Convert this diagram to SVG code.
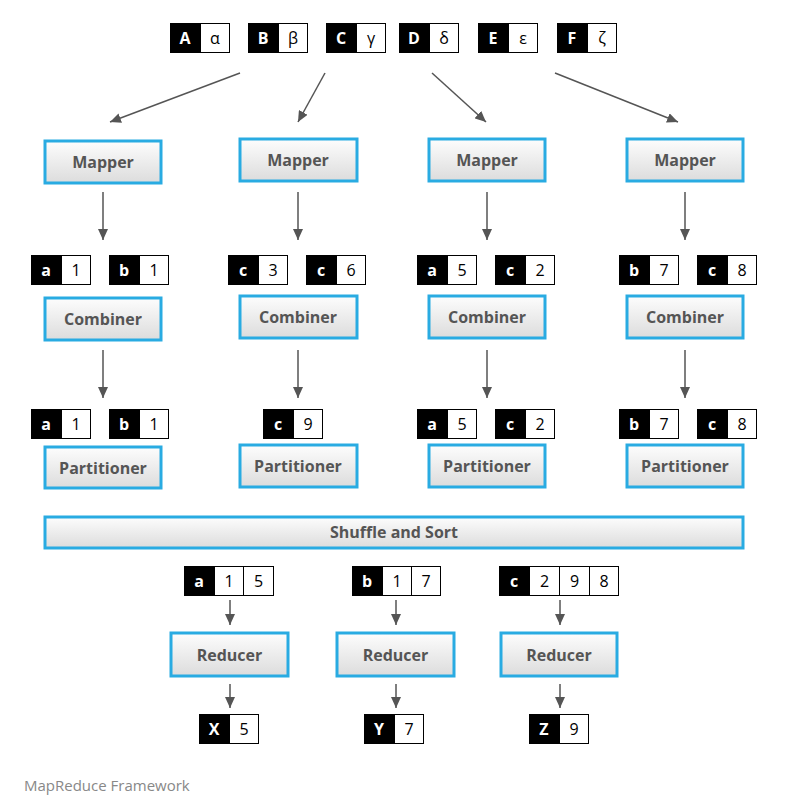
<svg xmlns="http://www.w3.org/2000/svg" width="794" height="801" viewBox="0 0 794 801">
<defs>
<linearGradient id="g" x1="0" y1="0" x2="0" y2="1">
<stop offset="0" stop-color="#fdfdfd"/>
<stop offset="1" stop-color="#dcdcdc"/>
</linearGradient>
<marker id="ah" markerUnits="userSpaceOnUse" markerWidth="11" markerHeight="10" refX="11" refY="5" orient="auto">
<path d="M0,0 L11,5 L0,10 z" fill="#555"/>
</marker>
</defs>
<style>
.box{fill:url(#g);stroke:#29abe2;stroke-width:3}
.lbl{font-family:"Open Sans","Liberation Sans",sans-serif;font-size:16px;font-weight:700;fill:#555;text-anchor:middle}
.k{fill:#000}
.v{fill:#fff;stroke:#000;stroke-width:1}
.kt{font-family:"Open Sans","Liberation Sans",sans-serif;font-size:16px;font-weight:700;fill:#fff;text-anchor:middle}
.vt{font-family:"Open Sans","Liberation Sans",sans-serif;font-size:16px;fill:#000;text-anchor:middle}
.c{stroke:#555;stroke-width:1.5;fill:none;marker-end:url(#ah)}
.cap{font-family:"Open Sans","Liberation Sans",sans-serif;font-size:15px;fill:#888}
</style>
<rect width="794" height="801" fill="#fff"/>

<!-- input pairs -->
<g id="in-A"><rect class="k" x="170" y="23" width="30" height="30"/><rect class="v" x="200.5" y="23.5" width="29" height="29"/><text class="kt" x="185" y="44">A</text><text class="vt" x="215" y="44">α</text></g>
<g id="in-B"><rect class="k" x="248" y="23" width="30" height="30"/><rect class="v" x="278.5" y="23.5" width="29" height="29"/><text class="kt" x="263" y="44">B</text><text class="vt" x="293" y="44">β</text></g>
<g id="in-C"><rect class="k" x="326" y="23" width="30" height="30"/><rect class="v" x="356.5" y="23.5" width="29" height="29"/><text class="kt" x="341" y="44">C</text><text class="vt" x="371" y="44">γ</text></g>
<g id="in-D"><rect class="k" x="399" y="23" width="30" height="30"/><rect class="v" x="429.5" y="23.5" width="29" height="29"/><text class="kt" x="414" y="44">D</text><text class="vt" x="444" y="44">δ</text></g>
<g id="in-E"><rect class="k" x="478" y="23" width="30" height="30"/><rect class="v" x="508.5" y="23.5" width="29" height="29"/><text class="kt" x="493" y="44">E</text><text class="vt" x="523" y="44">ε</text></g>
<g id="in-F"><rect class="k" x="557" y="23" width="30" height="30"/><rect class="v" x="587.5" y="23.5" width="29" height="29"/><text class="kt" x="572" y="44">F</text><text class="vt" x="602" y="44">ζ</text></g>

<!-- connectors -->
<g id="connectors">
<line class="c" x1="240" y1="73" x2="110" y2="122"/>
<line class="c" x1="325" y1="73" x2="298" y2="122"/>
<line class="c" x1="432" y1="73" x2="486" y2="122"/>
<line class="c" x1="555" y1="73" x2="678" y2="122"/>
<line class="c" x1="103" y1="192" x2="103" y2="240"/>
<line class="c" x1="298" y1="192" x2="298" y2="240"/>
<line class="c" x1="487" y1="192" x2="487" y2="240"/>
<line class="c" x1="685" y1="192" x2="685" y2="240"/>
<line class="c" x1="103" y1="350" x2="103" y2="398"/>
<line class="c" x1="298" y1="350" x2="298" y2="398"/>
<line class="c" x1="487" y1="350" x2="487" y2="398"/>
<line class="c" x1="685" y1="350" x2="685" y2="398"/>
<line class="c" x1="230" y1="600" x2="230" y2="625"/>
<line class="c" x1="396" y1="600" x2="396" y2="625"/>
<line class="c" x1="560" y1="600" x2="560" y2="625"/>
<line class="c" x1="230" y1="684" x2="230" y2="708"/>
<line class="c" x1="396" y1="684" x2="396" y2="708"/>
<line class="c" x1="560" y1="684" x2="560" y2="708"/>
</g>

<!-- mappers -->
<g id="mapper1"><rect class="box" x="45" y="141" width="116" height="42"/><text class="lbl" x="103" y="167.5">Mapper</text></g>
<g id="mapper2"><rect class="box" x="240" y="139" width="117" height="42"/><text class="lbl" x="298" y="165.5">Mapper</text></g>
<g id="mapper3"><rect class="box" x="429" y="139" width="116" height="42"/><text class="lbl" x="487" y="165.5">Mapper</text></g>
<g id="mapper4"><rect class="box" x="627" y="139" width="116" height="42"/><text class="lbl" x="685" y="165.5">Mapper</text></g>

<!-- map outputs -->
<g id="m1a"><rect class="k" x="31" y="255" width="30" height="30"/><rect class="v" x="61.5" y="255.5" width="29" height="29"/><text class="kt" x="46" y="276">a</text><text class="vt" x="76" y="276">1</text></g>
<g id="m1b"><rect class="k" x="109" y="255" width="30" height="30"/><rect class="v" x="139.5" y="255.5" width="29" height="29"/><text class="kt" x="124" y="276">b</text><text class="vt" x="154" y="276">1</text></g>
<g id="m2a"><rect class="k" x="228" y="255" width="30" height="30"/><rect class="v" x="258.5" y="255.5" width="29" height="29"/><text class="kt" x="243" y="276">c</text><text class="vt" x="273" y="276">3</text></g>
<g id="m2b"><rect class="k" x="306" y="255" width="30" height="30"/><rect class="v" x="336.5" y="255.5" width="29" height="29"/><text class="kt" x="321" y="276">c</text><text class="vt" x="351" y="276">6</text></g>
<g id="m3a"><rect class="k" x="417" y="255" width="30" height="30"/><rect class="v" x="447.5" y="255.5" width="29" height="29"/><text class="kt" x="432" y="276">a</text><text class="vt" x="462" y="276">5</text></g>
<g id="m3b"><rect class="k" x="495" y="255" width="30" height="30"/><rect class="v" x="525.5" y="255.5" width="29" height="29"/><text class="kt" x="510" y="276">c</text><text class="vt" x="540" y="276">2</text></g>
<g id="m4a"><rect class="k" x="619" y="255" width="30" height="30"/><rect class="v" x="649.5" y="255.5" width="29" height="29"/><text class="kt" x="634" y="276">b</text><text class="vt" x="664" y="276">7</text></g>
<g id="m4b"><rect class="k" x="697" y="255" width="30" height="30"/><rect class="v" x="727.5" y="255.5" width="29" height="29"/><text class="kt" x="712" y="276">c</text><text class="vt" x="742" y="276">8</text></g>

<!-- combiners -->
<g id="combiner1"><rect class="box" x="45" y="298" width="116" height="42"/><text class="lbl" x="103" y="324.5">Combiner</text></g>
<g id="combiner2"><rect class="box" x="240" y="296" width="117" height="42"/><text class="lbl" x="298" y="322.5">Combiner</text></g>
<g id="combiner3"><rect class="box" x="429" y="296" width="116" height="42"/><text class="lbl" x="487" y="322.5">Combiner</text></g>
<g id="combiner4"><rect class="box" x="627" y="296" width="116" height="42"/><text class="lbl" x="685" y="322.5">Combiner</text></g>

<!-- combiner outputs -->
<g id="c1a"><rect class="k" x="31" y="409" width="30" height="30"/><rect class="v" x="61.5" y="409.5" width="29" height="29"/><text class="kt" x="46" y="430">a</text><text class="vt" x="76" y="430">1</text></g>
<g id="c1b"><rect class="k" x="109" y="409" width="30" height="30"/><rect class="v" x="139.5" y="409.5" width="29" height="29"/><text class="kt" x="124" y="430">b</text><text class="vt" x="154" y="430">1</text></g>
<g id="c2a"><rect class="k" x="263" y="409" width="30" height="30"/><rect class="v" x="293.5" y="409.5" width="29" height="29"/><text class="kt" x="278" y="430">c</text><text class="vt" x="308" y="430">9</text></g>
<g id="c3a"><rect class="k" x="417" y="409" width="30" height="30"/><rect class="v" x="447.5" y="409.5" width="29" height="29"/><text class="kt" x="432" y="430">a</text><text class="vt" x="462" y="430">5</text></g>
<g id="c3b"><rect class="k" x="495" y="409" width="30" height="30"/><rect class="v" x="525.5" y="409.5" width="29" height="29"/><text class="kt" x="510" y="430">c</text><text class="vt" x="540" y="430">2</text></g>
<g id="c4a"><rect class="k" x="619" y="409" width="30" height="30"/><rect class="v" x="649.5" y="409.5" width="29" height="29"/><text class="kt" x="634" y="430">b</text><text class="vt" x="664" y="430">7</text></g>
<g id="c4b"><rect class="k" x="697" y="409" width="30" height="30"/><rect class="v" x="727.5" y="409.5" width="29" height="29"/><text class="kt" x="712" y="430">c</text><text class="vt" x="742" y="430">8</text></g>

<!-- partitioners -->
<g id="partitioner1"><rect class="box" x="45" y="447" width="116" height="41"/><text class="lbl" x="103" y="473.5">Partitioner</text></g>
<g id="partitioner2"><rect class="box" x="240" y="445" width="117" height="42"/><text class="lbl" x="298" y="471.5">Partitioner</text></g>
<g id="partitioner3"><rect class="box" x="429" y="445" width="116" height="42"/><text class="lbl" x="487" y="471.5">Partitioner</text></g>
<g id="partitioner4"><rect class="box" x="627" y="445" width="116" height="42"/><text class="lbl" x="685" y="471.5">Partitioner</text></g>

<!-- shuffle -->
<g id="shuffle"><rect class="box" x="45" y="517" width="698" height="31"/><text class="lbl" x="394" y="538">Shuffle and Sort</text></g>

<!-- reducer inputs -->
<g id="r1in"><rect class="k" x="184" y="566" width="30" height="30"/><rect class="v" x="214.5" y="566.5" width="29" height="29"/><rect class="v" x="243.5" y="566.5" width="30" height="29"/><text class="kt" x="199" y="587">a</text><text class="vt" x="229" y="587">1</text><text class="vt" x="258.5" y="587">5</text></g>
<g id="r2in"><rect class="k" x="352" y="566" width="30" height="30"/><rect class="v" x="382.5" y="566.5" width="29" height="29"/><rect class="v" x="411.5" y="566.5" width="29" height="29"/><text class="kt" x="367" y="587">b</text><text class="vt" x="397" y="587">1</text><text class="vt" x="426" y="587">7</text></g>
<g id="r3in"><rect class="k" x="499" y="566" width="30" height="30"/><rect class="v" x="529.5" y="566.5" width="30" height="29"/><rect class="v" x="559.5" y="566.5" width="30" height="29"/><rect class="v" x="589.5" y="566.5" width="29" height="29"/><text class="kt" x="514" y="587">c</text><text class="vt" x="544.5" y="587">2</text><text class="vt" x="574.5" y="587">9</text><text class="vt" x="604" y="587">8</text></g>

<!-- reducers -->
<g id="reducer1"><rect class="box" x="171" y="633" width="117" height="43"/><text class="lbl" x="229.5" y="660.5">Reducer</text></g>
<g id="reducer2"><rect class="box" x="337" y="633" width="117" height="43"/><text class="lbl" x="395.5" y="660.5">Reducer</text></g>
<g id="reducer3"><rect class="box" x="501" y="633" width="116" height="43"/><text class="lbl" x="559" y="660.5">Reducer</text></g>

<!-- outputs -->
<g id="outX"><rect class="k" x="199" y="714" width="30" height="30"/><rect class="v" x="229.5" y="714.5" width="29" height="29"/><text class="kt" x="214" y="735">X</text><text class="vt" x="244" y="735">5</text></g>
<g id="outY"><rect class="k" x="364" y="714" width="30" height="30"/><rect class="v" x="394.5" y="714.5" width="29" height="29"/><text class="kt" x="379" y="735">Y</text><text class="vt" x="409" y="735">7</text></g>
<g id="outZ"><rect class="k" x="529" y="714" width="30" height="30"/><rect class="v" x="559.5" y="714.5" width="29" height="29"/><text class="kt" x="544" y="735">Z</text><text class="vt" x="574" y="735">9</text></g>

<text class="cap" x="24" y="791">MapReduce Framework</text>
</svg>
